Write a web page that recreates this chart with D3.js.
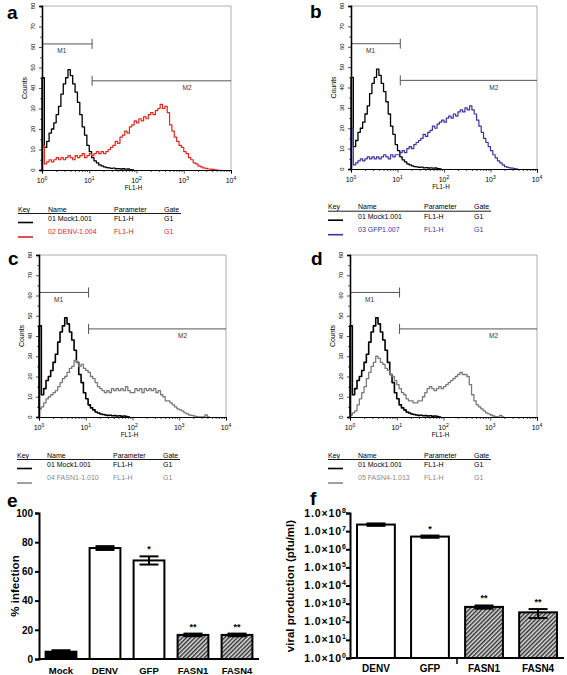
<!DOCTYPE html>
<html><head><meta charset="utf-8">
<script src="https://cdn.jsdelivr.net/npm/d3@7"></script>
<style>body{margin:0;background:#fff} svg{display:block;font-family:Arial,"Liberation Sans",sans-serif}</style>
</head><body><svg id="chart" width="567" height="675"></svg>
<script>
// ---------- DATA ----------
// Flow-cytometry histograms: counts per channel, channels spaced 0.05 decades from 10^0
const channelStepDecades = 0.05;
const mockCounts = [45,11,14,18,20,23,27,31,37,42,45,49,46,42,38,33,27,21,17,12,9,6,4.5,3.5,2.5,2,1.5,1.2,1,0.8,0.9,0.6,0.7,0.5,0.6,0.4,0.5,0.2,0,0];
const denvCounts = [12,3,4,5,4,5,6,5,6,5,6,7,6,5,7,6,7,8,6,7,8,7,8,9,8,9,8,9,10,11,12,14,13,16,17,19,18,21,22,24,23,25,24,26,25,27,28,27,29,30,32,30,31,28,22,19,16,14,12,11,9,8,6,5,3.5,3,2,1.5,1,0.8,0.5,0.4,0.3,0.1,0,0];
const gfpCounts = [20,2,3,4,5,4,5,6,5,6,5,6,5,6,7,6,5,7,6,7,7,8,9,8,10,11,10,12,13,14,15,17,16,18,19,21,20,22,23,24,23,25,26,25,27,26,28,29,28,30,29,31,29,27,24,21,18,15,13,11,9,7,5.5,4,3,2,1.2,0.8,0.6,0.4,0.2,0,0];
const fasn1Counts = [4,5,7,9,10,11,12,13,15,17,19,20,22,24,25,28,27,25,26,24,23,22,20,19,17,15,14,13,12,13,12,14,13,14,13,14,13,15,13,12,12,14,13,14,12,14,13,14,13,14,12,13,11,10,8,8,7,6,5,4,3.5,3,2,1.5,1,0.8,0.5,0.2,0,0,0,1,0,0];
const fasn4Counts = [1,2,3,6,9,12,15,19,22,25,27,30,29,27,26,24,23,21,20,18,16,14,12,11,9,8,8,7,7,8,8,10,12,14,15,14,13,14,15,14,15,16,17,18,19,20,21,22,21,21,20,16,11,8,6,5,4,3,2,1.5,1,0.5,0.2,0,0.8,0,0];
const histYTicks = [0,10,20,30,40,50,60,70,80];
const histXDecades = [0,1,2,3,4];
const gateBoundaryDecades = 1.06;
const gateM1Level = 61.5;
const gateM2Level = 43.5;
const keyHeader = ["Key","Name","Parameter","Gate"];
const mockKeyRow = ["01 Mock1.001","FL1-H","G1"];
const denvKeyRow = ["02 DENV-1.004","FL1-H","G1"];
const gfpKeyRow = ["03 GFP1.007","FL1-H","G1"];
const fasn1KeyRow = ["04 FASN1-1.010","FL1-H","G1"];
const fasn4KeyRow = ["05 FASN4-1.013","FL1-H","G1"];

// Panel e: % infection
const eCategories = ["Mock","DENV","GFP","FASN1","FASN4"];
const eValues = [5, 76, 67.5, 16.5, 16.5];
const eErrors = [1, 1.3, 2.8, 0.9, 0.9];
const eStars = ["","","*","**","**"];
const eStyles = ["solid","open","open","hatch","hatch"];
const eTicks = [0,20,40,60,80,100];

// Panel f: viral production (pfu/ml)
const fCategories = ["DENV","GFP","FASN1","FASN4"];
const fValues = [2.3e7, 5.0e6, 6.6e2, 3.3e2];
const fErrors = [0.35e7, 0.7e6, 1.3e2, 1.7e2];
const fStars = ["","*","**","**"];
const fStyles = ["open","open","hatch","hatch"];
const fTickExponents = [0,1,2,3,4,5,6,7,8];

// ---------- DRAW ----------
const svg = d3.select("#chart");
const defs = svg.append("defs");
const pat = defs.append("pattern").attr("id","hatch").attr("patternUnits","userSpaceOnUse")
  .attr("width",3).attr("height",3).attr("patternTransform","rotate(45)");
pat.append("rect").attr("width",3).attr("height",3).attr("fill","#e0e0e0");
pat.append("line").attr("x1",0.75).attr("y1",0).attr("x2",0.75).attr("y2",3).attr("stroke","#1a1a1a").attr("stroke-width",1.3);

const RED = "#e2261d", BLUE = "#3b33a3", GRAY = "#7a7a7a";

function panelLetter(t, x, y){
  svg.append("text").attr("x",x).attr("y",y).attr("font-size",19).attr("font-weight","bold").text(t);
}

function histogram(p){
  const x = d3.scaleLog().domain([1,1e4]).range([p.left,p.right]);
  const y = d3.scaleLinear().domain([0,80]).range([p.bottom,p.top]);
  const g = svg.append("g");
  g.append("path").attr("d",`M${p.left},${p.top}H${p.right}V${p.bottom}`)
    .attr("fill","none").attr("stroke","#9a9a9a").attr("stroke-width",0.8);
  // gates
  const bx = x(Math.pow(10, gateBoundaryDecades));
  const gc = "#555";
  g.append("line").attr("x1",p.left).attr("x2",bx).attr("y1",y(gateM1Level)).attr("y2",y(gateM1Level)).attr("stroke",gc).attr("stroke-width",1);
  g.append("line").attr("x1",bx).attr("x2",bx).attr("y1",y(gateM1Level)-5).attr("y2",y(gateM1Level)+5).attr("stroke",gc).attr("stroke-width",1);
  g.append("line").attr("x1",bx).attr("x2",p.right).attr("y1",y(gateM2Level)).attr("y2",y(gateM2Level)).attr("stroke",gc).attr("stroke-width",1);
  g.append("line").attr("x1",bx).attr("x2",bx).attr("y1",y(gateM2Level)-5).attr("y2",y(gateM2Level)+5).attr("stroke",gc).attr("stroke-width",1);
  g.append("text").attr("x",x(Math.pow(10,0.42))).attr("y",y(gateM1Level)+9.5).attr("text-anchor","middle").attr("font-size",6.5).attr("fill","#333").text("M1");
  g.append("text").attr("x",x(Math.pow(10,3.07))).attr("y",y(gateM2Level)+9.5).attr("text-anchor","middle").attr("font-size",6.5).attr("fill","#333").text("M2");
  // curves
  const line = d3.line().x(d=>x(Math.pow(10,d[0]))).y(d=>y(d[1])).curve(d3.curveStepAfter);
  p.series.forEach(s=>{
    const pts = [[0,0]].concat(s.counts.map((c,i)=>[i*channelStepDecades,c]));
    g.append("path").attr("d",line(pts)).attr("fill","none").attr("stroke",s.color).attr("stroke-width",s.w).attr("stroke-linejoin","round");
  });
  // axes
  const minor = [];
  for (let d=0; d<4; d++) for (let k=2;k<10;k++) minor.push(k*Math.pow(10,d));
  const xa = g.append("g").attr("transform",`translate(0,${p.bottom})`);
  xa.call(d3.axisBottom(x).tickValues(histXDecades.map(d=>Math.pow(10,d))).tickSize(3.5).tickFormat(""));
  xa.append("g").call(d3.axisBottom(x).tickValues(minor).tickSize(2).tickFormat(""));
  xa.selectAll(".domain").attr("stroke","#000").attr("stroke-width",1);
  xa.selectAll("line").attr("stroke","#000").attr("stroke-width",0.7);
  histXDecades.forEach(d=>{
    const t = g.append("text").attr("x",x(Math.pow(10,d))).attr("y",p.bottom+12.5).attr("text-anchor","middle").attr("font-size",7);
    t.append("tspan").text("10");
    t.append("tspan").attr("dy",-3).attr("font-size",5).text(d);
  });
  g.append("text").attr("x",(p.left+p.right)/2-3).attr("y",p.bottom+19.5).attr("text-anchor","middle").attr("font-size",6.3).text("FL1-H");
  const ya = g.append("g").attr("transform",`translate(${p.left},0)`);
  ya.call(d3.axisLeft(y).tickValues(histYTicks).tickSize(3).tickFormat(""));
  ya.append("g").call(d3.axisLeft(y).tickValues(histYTicks.slice(0,-1).map(v=>v+5)).tickSize(1.8).tickFormat(""));
  ya.selectAll(".domain").attr("stroke","#000").attr("stroke-width",1.3);
  ya.selectAll("line").attr("stroke","#000").attr("stroke-width",0.7);
  histYTicks.forEach(v=>{
    g.append("text").attr("transform",`translate(${p.left-9},${y(v)}) rotate(-90)`)
      .attr("text-anchor","middle").attr("dominant-baseline","central").attr("font-size",6).text(v);
  });
  g.append("text").attr("transform",`translate(${p.left-18},${(p.top+p.bottom)/2}) rotate(-90)`)
    .attr("text-anchor","middle").attr("dominant-baseline","central").attr("font-size",7).text("Counts");
}

function keyTable(x0, yc, row2, color2){
  const cols = [0,30,96,146];
  const g = svg.append("g").attr("font-size",7);
  keyHeader.forEach((h,i)=>g.append("text").attr("x",x0+cols[i]).attr("y",yc+2.5).text(h));
  g.append("line").attr("x1",x0).attr("x2",x0+163).attr("y1",yc+4.5).attr("y2",yc+4.5).attr("stroke","#000").attr("stroke-width",0.9);
  mockKeyRow.forEach((t,i)=>g.append("text").attr("x",x0+cols[i+1]).attr("y",yc+12).text(t));
  g.append("line").attr("x1",x0).attr("x2",x0+15).attr("y1",yc+13.5).attr("y2",yc+13.5).attr("stroke","#000").attr("stroke-width",1.6);
  row2.forEach((t,i)=>g.append("text").attr("x",x0+cols[i+1]).attr("y",yc+25).attr("fill",color2).text(t));
  g.append("line").attr("x1",x0).attr("x2",x0+15).attr("y1",yc+28).attr("y2",yc+28).attr("stroke",color2).attr("stroke-width",1.6);
}

// Panels a-d
panelLetter("a",7,18.5);
histogram({left:42,right:231,top:6,bottom:170,series:[{counts:mockCounts,color:"#000",w:1.3},{counts:denvCounts,color:RED,w:1.2}]});
keyTable(18,209,denvKeyRow,RED);

panelLetter("b",310,18.3);
histogram({left:351,right:537,top:6,bottom:169,series:[{counts:mockCounts,color:"#000",w:1.3},{counts:gfpCounts,color:BLUE,w:1.2}]});
keyTable(328,206.7,gfpKeyRow,BLUE);

panelLetter("c",8,265);
histogram({left:39,right:226,top:255,bottom:417,series:[{counts:mockCounts,color:"#000",w:1.6},{counts:fasn1Counts,color:GRAY,w:1.3}]});
keyTable(17,455,fasn1KeyRow,"#888");

panelLetter("d",311,265);
histogram({left:350,right:537,top:255,bottom:417,series:[{counts:mockCounts,color:"#000",w:1.6},{counts:fasn4Counts,color:GRAY,w:1.3}]});
keyTable(328,455,fasn4KeyRow,"#888");

// Bar chart helper
function barPanel(o){
  const g = svg.append("g");
  o.cats.forEach((c,i)=>{
    const v=o.vals[i], e=o.errs[i];
    const bx=o.x(c), bw=o.x.bandwidth();
    const fill = o.styles[i]==="solid" ? "#000" : o.styles[i]==="hatch" ? "url(#hatch)" : "#fff";
    g.append("rect").attr("x",bx).attr("y",o.y(v)).attr("width",bw).attr("height",o.y0-o.y(v))
      .attr("fill",fill).attr("stroke","#000").attr("stroke-width",2);
    const cx = bx+bw/2, cw=9.5;
    const yt=o.y(v+e), yb=o.y(Math.max(v-e,o.minV));
    g.append("line").attr("x1",cx).attr("x2",cx).attr("y1",yt).attr("y2",yb).attr("stroke","#000").attr("stroke-width",2);
    g.append("line").attr("x1",cx-cw).attr("x2",cx+cw).attr("y1",yt).attr("y2",yt).attr("stroke","#000").attr("stroke-width",2);
    g.append("line").attr("x1",cx-cw).attr("x2",cx+cw).attr("y1",yb).attr("y2",yb).attr("stroke","#000").attr("stroke-width",2);
    if (o.stars[i]) g.append("text").attr("x",cx).attr("y",yt-4).attr("text-anchor","middle").attr("font-size",9).attr("font-weight","bold").text(o.stars[i]);
    g.append("text").attr("x",cx).attr("y",o.labelY).attr("text-anchor","middle").attr("font-size",o.labelSize).attr("font-weight","bold").text(c);
  });
}

// Panel e
panelLetter("e",7,507);
const ex = d3.scaleBand().domain(eCategories).range([39,259]).paddingInner(0.3).paddingOuter(0.15);
const ey = d3.scaleLinear().domain([0,100]).range([659,513]);
const eya = svg.append("g").attr("transform","translate(39,0)")
  .call(d3.axisLeft(ey).tickValues(eTicks).tickSize(4).tickPadding(2));
eya.selectAll(".domain").attr("stroke-width",2);
eya.selectAll("line").attr("stroke-width",2);
eya.selectAll("text").attr("font-size",10).attr("font-weight","bold").attr("font-family","Arial,Liberation Sans,sans-serif");
svg.append("line").attr("x1",38).attr("x2",259).attr("y1",659).attr("y2",659).attr("stroke","#000").attr("stroke-width",2);
barPanel({cats:eCategories,vals:eValues,errs:eErrors,stars:eStars,styles:eStyles,x:ex,y:ey,y0:659,minV:0,labelY:673.5,labelSize:9.5});
svg.append("text").attr("transform","translate(15,586) rotate(-90)").attr("text-anchor","middle").attr("dominant-baseline","central")
  .attr("font-size",11.5).attr("font-weight","bold").text("% infection");

// Panel f
panelLetter("f",310,504.5);
const fx = d3.scaleBand().domain(fCategories).range([350,564]).paddingInner(0.3).paddingOuter(0.13);
const fy = d3.scaleLog().domain([1,1e8]).range([658,513]);
const fya = svg.append("g").attr("transform","translate(350,0)")
  .call(d3.axisLeft(fy).tickValues(fTickExponents.map(k=>Math.pow(10,k))).tickSize(4).tickFormat(""));
fya.selectAll(".domain").attr("stroke-width",2);
fya.selectAll("line").attr("stroke-width",2);
fTickExponents.forEach(k=>{
  const t = svg.append("text").attr("x",346).attr("y",fy(Math.pow(10,k))+3.5).attr("text-anchor","end")
    .attr("font-size",10.5).attr("font-weight","bold").attr("letter-spacing",0.9);
  t.append("tspan").text("1.0\u00d710");
  t.append("tspan").attr("dy",-4).attr("font-size",7).attr("letter-spacing",0).text(k);
});
svg.append("line").attr("x1",349).attr("x2",564).attr("y1",658).attr("y2",658).attr("stroke","#000").attr("stroke-width",2);
const sepX = (fx("GFP")+fx.bandwidth()+fx("FASN1"))/2;
svg.append("line").attr("x1",sepX).attr("x2",sepX).attr("y1",658).attr("y2",664).attr("stroke","#000").attr("stroke-width",1.5);
barPanel({cats:fCategories,vals:fValues,errs:fErrors,stars:fStars,styles:fStyles,x:fx,y:fy,y0:658,minV:1,labelY:672,labelSize:10});
svg.append("text").attr("transform","translate(290,586) rotate(-90)").attr("text-anchor","middle").attr("dominant-baseline","central")
  .attr("font-size",11.5).attr("font-weight","bold").text("viral production (pfu/ml)");
</script></body></html>
